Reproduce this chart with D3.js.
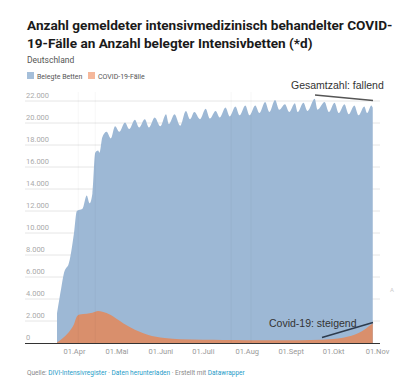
<!DOCTYPE html>
<html>
<head>
<meta charset="utf-8">
<script src="https://cdn.jsdelivr.net/npm/d3@7"></script>
<style>
  body { margin: 0; background: #fff; }
  svg { display: block; }
</style>
</head>
<body>
<script>
// Belegte Betten (Intensivbetten gesamt)
var bedDates = ["2020-03-20","2020-03-23","2020-03-25","2020-03-27","2020-03-28","2020-04-01","2020-04-03",
  "2020-04-07","2020-04-10","2020-04-12","2020-04-14","2020-04-16","2020-04-18","2020-04-19","2020-04-21",
  "2020-04-24","2020-04-27","2020-04-30","2020-05-03","2020-05-07","2020-05-10","2020-05-14","2020-05-17",
  "2020-05-21","2020-05-24","2020-05-28","2020-06-01","2020-06-05","2020-06-07","2020-06-11","2020-06-15",
  "2020-06-19","2020-06-22","2020-06-25","2020-06-29","2020-07-03","2020-07-06","2020-07-10","2020-07-13",
  "2020-07-17","2020-07-20","2020-07-24","2020-07-27","2020-07-31","2020-08-03","2020-08-07","2020-08-10",
  "2020-08-14","2020-08-17","2020-08-21","2020-08-24","2020-08-28","2020-08-31","2020-09-04","2020-09-06",
  "2020-09-10","2020-09-13","2020-09-18","2020-09-20","2020-09-25","2020-09-28","2020-10-02","2020-10-05",
  "2020-10-09","2020-10-12","2020-10-16","2020-10-19","2020-10-23","2020-10-25","2020-10-28","2020-10-29"];
var bedValues = [2700,5000,6400,6900,7100,10000,12000,
  12200,13400,12700,13600,17300,17500,17300,18700,
  19200,18600,19700,19200,20050,19450,20300,19600,
  20350,19600,20500,19700,20800,19900,20800,19750,
  21100,20350,21000,20350,21300,20400,21100,20500,
  21400,20600,21500,20700,21600,20700,21600,20900,
  21900,21000,22100,21200,21700,21000,21800,21000,
  21850,21100,22200,21200,21900,21000,21850,20900,
  21700,20800,21600,20700,21500,20900,21600,21400];

// COVID-19-Fälle auf Intensivstation
var covidDates = ["2020-03-20","2020-03-25","2020-03-29","2020-04-01","2020-04-03","2020-04-05","2020-04-10",
  "2020-04-14","2020-04-18","2020-04-21","2020-04-27","2020-05-01","2020-05-11","2020-05-23","2020-06-04",
  "2020-06-15","2020-07-01","2020-07-15","2020-08-01","2020-08-15","2020-09-01","2020-09-15","2020-10-01",
  "2020-10-08","2020-10-14","2020-10-19","2020-10-23","2020-10-26","2020-10-29"];
var covidValues = [50,550,1100,1700,2400,2600,2650,
  2750,2900,2850,2550,2200,1400,750,450,
  330,300,280,260,240,240,270,360,
  480,650,900,1200,1500,1800];

var yTicks = [0,2000,4000,6000,8000,10000,12000,14000,16000,18000,20000,22000];
var xTickDates = ["2020-04-01","2020-05-01","2020-06-01","2020-07-01","2020-08-01","2020-09-01","2020-10-01","2020-11-01"];
var monthNames = ["Jan","Feb","Mär","Apr","Mai","Juni","Juli","Aug","Sept","Okt","Nov","Dez"];
var markerDates = ["2020-04-04","2020-04-16","2020-07-21","2020-08-04"];
var seriesNames = ["Belegte Betten","COVID-19-Fälle"];

var W = 398, H = 381;
var parse = d3.timeParse("%Y-%m-%d");
var de = d3.formatLocale({decimal: ",", thousands: ".", grouping: [3], currency: ["", " €"]});
var fmt = de.format(",d");

var svg = d3.select("body").append("svg").attr("width", W).attr("height", H)
  .style("font-family", "Roboto, 'Noto Sans', sans-serif");

var x = d3.scaleTime().domain([parse("2020-03-20"), parse("2020-11-01")]).range([57, 377]);
var y = d3.scaleLinear().domain([0, 22000]).range([343, 101]);

// title
svg.append("text").attr("x", 27).attr("y", 30)
  .attr("font-size", 13.6).attr("font-weight", 700).attr("fill", "#1a1a1a")
  .text("Anzahl gemeldeter intensivmedizinisch behandelter COVID-");
svg.append("text").attr("x", 27).attr("y", 48)
  .attr("font-size", 13.6).attr("font-weight", 700).attr("fill", "#1a1a1a")
  .text("19-Fälle an Anzahl belegter Intensivbetten (*d)");
svg.append("text").attr("x", 27).attr("y", 63)
  .attr("font-size", 8.5).attr("fill", "#555").text("Deutschland");

// legend
var legColors = ["#a5bfda", "#f5b89b"];
var legX = [27, 88];
seriesNames.forEach(function(n, i) {
  svg.append("rect").attr("x", legX[i]).attr("y", 72).attr("width", 7).attr("height", 7).attr("fill", legColors[i]);
  svg.append("text").attr("x", legX[i] + 10).attr("y", 78.5).attr("font-size", 7).attr("fill", "#555").text(n);
});

// gridlines + y labels
var grid = svg.append("g");
yTicks.forEach(function(t) {
  if (t > 0) {
    grid.append("line").attr("x1", 25).attr("x2", 380).attr("y1", y(t)).attr("y2", y(t))
      .attr("stroke", "#e6e6e6").attr("stroke-width", 1);
  }
  grid.append("text").attr("x", 26).attr("y", y(t) - 3.5).attr("font-size", 7.5).attr("fill", "#aaa").text(fmt(t));
});

var beds = bedDates.map(function(d, i) { return {date: parse(d), v: bedValues[i]}; });
var covid = covidDates.map(function(d, i) { return {date: parse(d), v: covidValues[i]}; });

var area = d3.area().x(function(d) { return x(d.date); }).y0(y(0)).y1(function(d) { return y(d.v); })
  .curve(d3.curveMonotoneX);

svg.append("path").attr("d", area(beds)).attr("fill", "#9db8d5");
svg.append("path").attr("d", area(covid)).attr("fill", "#d98f6c");

// faint vertical markers
markerDates.forEach(function(m) {
  svg.append("line").attr("x1", x(parse(m))).attr("x2", x(parse(m))).attr("y1", 92).attr("y2", 343)
    .attr("stroke", "rgba(0,0,0,0.035)").attr("stroke-width", 1);
});

// x axis
svg.append("line").attr("x1", 25).attr("x2", 380).attr("y1", 343.5).attr("y2", 343.5)
  .attr("stroke", "#333").attr("stroke-width", 1);
var xAxis = d3.axisBottom(x).tickValues(xTickDates.map(parse)).tickSize(0).tickPadding(5)
  .tickFormat(function(d) { return "01." + monthNames[d.getMonth()]; });
var gx = svg.append("g").attr("transform", "translate(0,344)").call(xAxis);
gx.select(".domain").remove();
gx.selectAll("text").attr("font-size", 7.5).attr("fill", "#999").attr("font-family", "Roboto, sans-serif");

// annotations
svg.append("text").attr("x", 291).attr("y", 89).attr("font-size", 10.5).attr("fill", "#333")
  .attr("font-family", "'Liberation Sans', Arial, sans-serif").text("Gesamtzahl: fallend");
svg.append("line").attr("x1", 315).attr("y1", 95).attr("x2", 373).attr("y2", 100.5)
  .attr("stroke", "#555").attr("stroke-width", 1.5);
svg.append("text").attr("x", 269).attr("y", 327).attr("font-size", 10.5).attr("fill", "#333")
  .attr("font-family", "'Liberation Sans', Arial, sans-serif").text("Covid-19: steigend");
svg.append("line").attr("x1", 322).attr("y1", 337.5).attr("x2", 373).attr("y2", 322.5)
  .attr("stroke", "#2d3b4d").attr("stroke-width", 1.5);

svg.append("text").attr("x", 390).attr("y", 292).attr("font-size", 6).attr("fill", "#ccc").text("A");

// source line
var src = svg.append("text").attr("x", 27).attr("y", 375).attr("font-size", 6.5);
src.append("tspan").attr("fill", "#888").text("Quelle: ");
src.append("tspan").attr("fill", "#1d9bc7").text("DIVI-Intensivregister");
src.append("tspan").attr("fill", "#888").text(" · ");
src.append("tspan").attr("fill", "#1d9bc7").text("Daten herunterladen");
src.append("tspan").attr("fill", "#888").text(" · Erstellt mit ");
src.append("tspan").attr("fill", "#1d9bc7").text("Datawrapper");
</script>
</body>
</html>
